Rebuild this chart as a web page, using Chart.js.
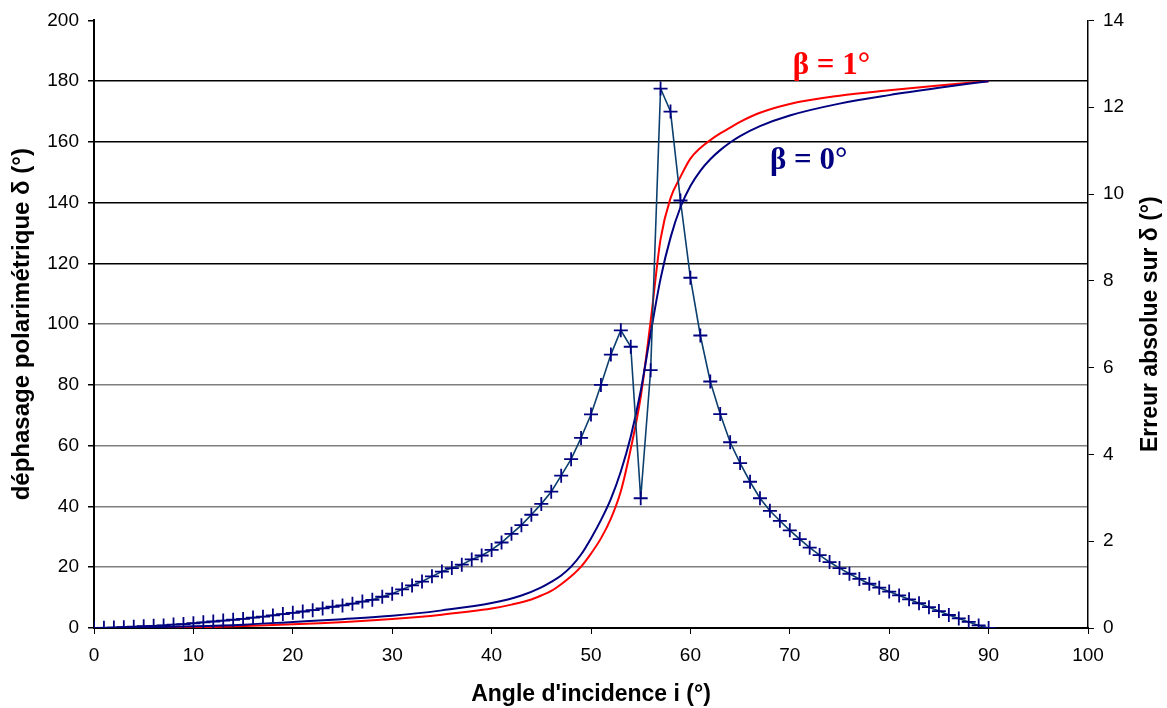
<!DOCTYPE html>
<html>
<head>
<meta charset="utf-8">
<script src="https://cdn.jsdelivr.net/npm/chart.js@4.4.1/dist/chart.umd.min.js"></script>
<style>
  html, body { margin: 0; padding: 0; background: #fff; }
  #wrap { width: 1167px; height: 708px; }
</style>
</head>
<body>
<div id="wrap"><canvas id="chart" width="1167" height="708"></canvas></div>
<script>
// error on delta (right axis), one point per degree
const errAngles = [0, 1, 2, 3, 4, 5, 6, 7, 8, 9, 10, 11, 12, 13, 14, 15, 16, 17, 18, 19,
  20, 21, 22, 23, 24, 25, 26, 27, 28, 29, 30, 31, 32, 33, 34, 35, 36, 37, 38, 39,
  40, 41, 42, 43, 44, 45, 46, 47, 48, 49, 50, 51, 52, 53, 54, 55, 56, 57, 58, 59,
  60, 61, 62, 63, 64, 65, 66, 67, 68, 69, 70, 71, 72, 73, 74, 75, 76, 77, 78, 79,
  80, 81, 82, 83, 84, 85, 86, 87, 88, 89, 90];
const errValues = [0, 0.003, 0.01, 0.02, 0.03, 0.04, 0.05, 0.06, 0.08, 0.09,
  0.11, 0.13, 0.15, 0.17, 0.19, 0.21, 0.24, 0.26, 0.29, 0.32,
  0.35, 0.38, 0.41, 0.45, 0.49, 0.52, 0.56, 0.61, 0.65, 0.72,
  0.79, 0.89, 0.98, 1.07, 1.19, 1.30, 1.38, 1.46, 1.58, 1.67,
  1.80, 1.97, 2.17, 2.37, 2.61, 2.86, 3.14, 3.51, 3.89, 4.38,
  4.92, 5.60, 6.30, 6.86, 6.48, 2.99, 5.94, 12.43, 11.90, 9.85,
  8.07, 6.74, 5.68, 4.93, 4.28, 3.80, 3.37, 2.99, 2.70, 2.47,
  2.25, 2.05, 1.85, 1.68, 1.52, 1.38, 1.25, 1.13, 1.02, 0.93,
  0.84, 0.75, 0.66, 0.57, 0.48, 0.39, 0.30, 0.22, 0.14, 0.06, 0];

// phase shift delta for beta = 0°
const beta0Angles = [0, 5, 10, 15, 20, 25, 30, 35, 40, 43, 45, 46, 47, 48, 49, 50, 51, 52, 53, 54,
  55, 56, 57, 58, 59, 60, 61, 62, 63, 64, 65, 67, 70, 75, 80, 85, 90];
const beta0Delta = [0, 0.2, 0.55, 1.1, 2.0, 2.9, 4.0, 5.8, 8.2, 10.7, 13.4, 15.2, 17.3, 20.2, 24.2, 29.5, 35.5, 42.5, 51.5, 63,
  78, 97, 115, 128.5, 138.5, 145.5, 150.5, 154.3, 157.3, 159.8, 161.9, 165.2, 168.7, 172.6, 175.4, 177.8, 180];

// phase shift delta for beta = 1°
const beta1Angles = [0, 10, 20, 30, 35, 40, 42, 44, 45, 46, 47, 48, 49, 50, 51, 52, 53, 54, 55, 56, 57,
  58, 59, 60, 61, 62, 63, 64, 65, 67, 70, 75, 80, 85, 90];
const beta1Delta = [0, 0.2, 1.2, 3.0, 4.4, 6.4, 7.7, 9.4, 10.7, 12.2, 14.4, 17.0, 20.2, 24.5, 29.5, 36, 45, 59, 76, 101, 128,
  141.5, 148.5, 154.5, 158, 160.6, 162.8, 164.7, 166.6, 169.6, 172.5, 175.2, 177, 178.6, 180];

const xTitle = "Angle d'incidence i (°)";
const yTitle = 'déphasage polarimétrique δ (°)';
const y2Title = 'Erreur absolue sur δ (°)';
const curveLabels = [
  { text: 'β = 1°', color: '#ff0000', x: 70.3, y: 182.3 },
  { text: 'β = 0°', color: '#000080', x: 68.0, y: 151.1 }
];

const pts = (xs, ys) => xs.map((x, i) => ({ x, y: ys[i] }));

const tickFont = { family: 'Liberation Sans, Arial, sans-serif', size: 19 };
const titleFont = { family: 'Liberation Sans, Arial, sans-serif', size: 23, weight: 'bold' };

// right title reads bottom-to-top, and the beta labels sit in data space
const extras = {
  id: 'extras',
  afterDraw(chart) {
    const { ctx, chartArea, scales } = chart;
    ctx.save();
    ctx.font = 'bold 23px "Liberation Sans", Arial, sans-serif';
    ctx.fillStyle = '#000';
    ctx.textAlign = 'center';
    ctx.textBaseline = 'middle';
    ctx.translate(chartArea.right + 63, (chartArea.top + chartArea.bottom) / 2);
    ctx.rotate(-Math.PI / 2);
    ctx.fillText(y2Title, 0, 0);
    ctx.restore();

    ctx.save();
    ctx.font = 'bold 31px "Liberation Serif", "Times New Roman", serif';
    ctx.textAlign = 'left';
    ctx.textBaseline = 'alphabetic';
    curveLabels.forEach(l => {
      ctx.fillStyle = l.color;
      ctx.fillText(l.text, scales.x.getPixelForValue(l.x), scales.y.getPixelForValue(l.y));
    });
    ctx.restore();
  }
};

const bg = {
  id: 'bg',
  beforeDraw(chart) {
    const c = chart.ctx;
    c.save();
    c.fillStyle = '#fff';
    c.fillRect(0, 0, chart.width, chart.height);
    c.restore();
  }
};

new Chart(document.getElementById('chart'), {
  type: 'line',
  data: {
    datasets: [
      {
        label: 'erreur',
        data: pts(errAngles, errValues),
        yAxisID: 'y2',
        borderColor: '#0b3f6e',
        borderWidth: 1.6,
        tension: 0,
        pointStyle: 'cross',
        pointRadius: 7,
        pointBorderWidth: 1.8,
        pointBorderColor: '#000080',
        order: 0
      },
      {
        label: 'beta0',
        data: pts(beta0Angles, beta0Delta),
        yAxisID: 'y',
        borderColor: '#000080',
        borderWidth: 2,
        cubicInterpolationMode: 'monotone',
        pointRadius: 0,
        order: 1
      },
      {
        label: 'beta1',
        data: pts(beta1Angles, beta1Delta),
        yAxisID: 'y',
        borderColor: '#ff0000',
        borderWidth: 2,
        cubicInterpolationMode: 'monotone',
        pointRadius: 0,
        order: 2
      }
    ]
  },
  options: {
    responsive: false,
    animation: false,
    layout: { padding: { top: 18, left: 0, right: 0, bottom: 0 } },
    plugins: {
      legend: { display: false },
      tooltip: { enabled: false }
    },
    scales: {
      x: {
        type: 'linear',
        min: 0,
        max: 100,
        afterFit: s => { s.height = 80; },
        ticks: { stepSize: 10, color: '#000', font: tickFont, padding: 10, maxRotation: 0 },
        grid: { drawOnChartArea: false, drawTicks: true, tickLength: 6, tickColor: '#000' },
        border: { color: '#000', width: 2 },
        title: { display: true, text: xTitle, color: '#000', font: titleFont, padding: { top: 0, bottom: 0 } }
      },
      y: {
        position: 'left',
        min: 0,
        max: 200,
        afterFit: s => { s.width = 94; },
        ticks: { stepSize: 20, color: '#000', font: tickFont, padding: 9 },
        grid: {
          color: c => (c.tick.value === 0 || c.tick.value === 200) ? 'rgba(0,0,0,0)'
            : (c.tick.value >= 120 ? '#000' : '#7f7f7f'),
          lineWidth: 1.5,
          drawTicks: true,
          tickLength: 6,
          tickColor: '#000'
        },
        border: { color: '#000', width: 2 },
        title: { display: true, text: yTitle, color: '#000', font: { ...titleFont, size: 24 }, padding: { top: 8, bottom: 0 } }
      },
      y2: {
        position: 'right',
        min: 0,
        max: 14,
        afterFit: s => { s.width = 79; },
        ticks: { stepSize: 2, color: '#000', font: tickFont, padding: 9 },
        grid: { drawOnChartArea: false, drawTicks: true, tickLength: 6, tickColor: '#000' },
        border: { color: '#000', width: 1.5 }
      }
    }
  },
  plugins: [bg, extras]
});
</script>
</body>
</html>
